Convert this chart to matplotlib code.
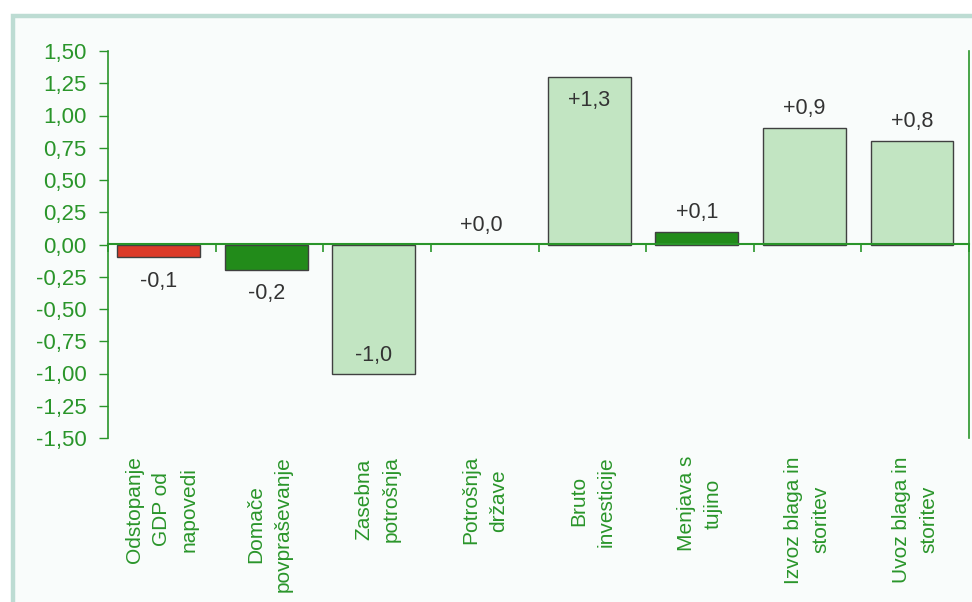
import matplotlib.pyplot as plt
from matplotlib.patches import Rectangle
from matplotlib.ticker import FuncFormatter
import numpy as np

plt.rcParams['font.family'] = ['Liberation Sans', 'DejaVu Sans']

categories = ["Odstopanje\nGDP od\nnapovedi", "Domače\npovpraševanje", "Zasebna\npotrošnja",
              "Potrošnja\ndržave", "Bruto\ninvesticije", "Menjava s\ntujino",
              "Izvoz blaga in\nstoritev", "Uvoz blaga in\nstoritev"]
values = [-0.1, -0.2, -1.0, 0.0, 1.3, 0.1, 0.9, 0.8]
value_labels = ["-0,1", "-0,2", "-1,0", "+0,0", "+1,3", "+0,1", "+0,9", "+0,8"]
yticks = [-1.5, -1.25, -1.0, -0.75, -0.5, -0.25, 0.0, 0.25, 0.5, 0.75, 1.0, 1.25, 1.5]

# barve in polozaj oznak
colors = ["#dc3a28", "#228b1a", "#c2e5c2", "#c2e5c2", "#c2e5c2", "#228b1a", "#c2e5c2", "#c2e5c2"]
inside = [False, False, True, False, True, False, False, False]
green = "#2a952a"

fig = plt.figure(figsize=(9.72, 6.02), dpi=100)
fig.patch.set_facecolor("white")
fig.patches.append(Rectangle((12.5 / 972, -0.1), 1.1, 0.1 + (602 - 15.5) / 602,
                             transform=fig.transFigure, facecolor="#f9fcfb",
                             edgecolor="#bddcd3", linewidth=3.2, zorder=-5))

ax = fig.add_axes([108 / 972, (602 - 438) / 602, (969 - 108) / 972, 387 / 602])
ax.set_facecolor("none")

x = np.arange(len(values))
lws = [0 if v == 0 else 1 for v in values]
ax.bar(x - 0.03, values, width=0.77, color=colors, edgecolor="#404040", linewidth=lws, zorder=3)

for xi, v, lab, ins in zip(x, values, value_labels, inside):
    if v >= 0:
        dy = -17 if ins else 14
    else:
        dy = 13 if ins else -17
    ax.annotate(lab, (xi - 0.03, v), xytext=(0, dy), textcoords="offset points",
                ha="center", va="center", fontsize=15.5, color="#333333", zorder=4)

ax.set_xlim(-0.5, len(values) - 0.5)
ax.set_ylim(-1.5, 1.5)
ax.set_yticks(yticks)
ax.yaxis.set_major_formatter(FuncFormatter(lambda v, p: f"{v:.2f}".replace(".", ",")))
ax.tick_params(axis="y", colors=green, labelcolor=green, labelsize=16, length=6.5, width=1, pad=9)

ax.set_xticks(x)
ax.set_xticklabels(categories, rotation=90, ha="center", va="top", multialignment="center",
                   linespacing=1.55)
ax.tick_params(axis="x", length=0, labelcolor=green, labelsize=15, pad=13)

for s in ["top", "bottom"]:
    ax.spines[s].set_visible(False)
for s in ["left", "right"]:
    ax.spines[s].set_color(green)
    ax.spines[s].set_linewidth(1.2)

# os x na nicli z oznakami med kategorijami
sec = ax.secondary_xaxis(0.5)
sec.set_zorder(5)
sec.set_xticks(np.arange(len(values) + 1) - 0.5)
sec.set_xticklabels([])
sec.tick_params(axis="x", direction="in", length=6, width=1.2, color=green,
                labeltop=False, labelbottom=False)
for s in sec.spines.values():
    s.set_color(green)
    s.set_linewidth(1.5)

fig.savefig("out.png", dpi=100)
